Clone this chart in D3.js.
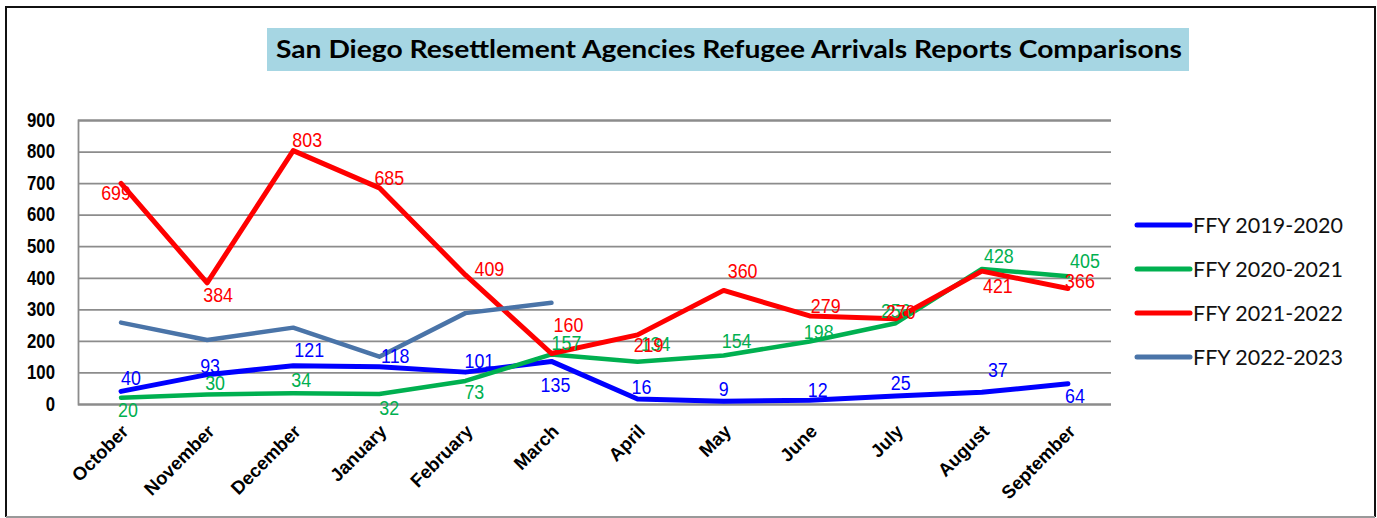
<!DOCTYPE html>
<html>
<head>
<meta charset="utf-8">
<script src="https://cdn.jsdelivr.net/npm/d3@7"></script>
<style>
  html, body { margin: 0; padding: 0; background: #fff; }
  svg { display: block; }
</style>
</head>
<body>
<div id="chart"></div>
<script>
// ---------- data ----------
var months = ['October', 'November', 'December', 'January', 'February', 'March', 'April', 'May', 'June', 'July', 'August', 'September'];
var yTicks = [0, 100, 200, 300, 400, 500, 600, 700, 800, 900];
var seriesNames = ['FFY 2019-2020', 'FFY 2020-2021', 'FFY 2021-2022', 'FFY 2022-2023'];
var ffy1920 = [40, 93, 121, 118, 101, 135, 16, 9, 12, 25, 37, 64];
var ffy2021 = [20, 30, 34, 32, 73, 157, 134, 154, 198, 256, 428, 405];
var ffy2122 = [699, 384, 803, 685, 409, 160, 219, 360, 279, 270, 421, 366];
var ffy2223 = [258, 203, 242, 150, 288, 321];
var title = 'San Diego Resettlement Agencies Refugee Arrivals Reports Comparisons';

// label nudges [dx, dy] from each point (layout only)
var nudge1920 = [[10,-6],[3,-2],[16,-9],[16,-4],[14,-4],[4,31],[4,-5],[0,-5],[8,-3],[5,-6],[16,-15],[7,19]];
var nudge2021 = [[7,19],[8,-5],[8,-6],[10,21],[9,18],[15,-4],[18,-11],[13,-7],[9,-3],[0,-5],[17,-6],[17,-8]];
var nudge2122 = [[-5,17],[11,19],[14,-4],[10,-3],[24,1],[17,-22],[11,17],[19,-12],[16,-3],[5,0],[16,22],[12,-1]];

var W = 1377, H = 518;
var colors = ['#0000ff', '#00b050', '#ff0000', '#4a74a8'];
var widths = [5, 4.5, 5, 4.5];
var series = [
  { name: seriesNames[0], v: ffy1920, c: colors[0], w: widths[0], nudge: nudge1920 },
  { name: seriesNames[1], v: ffy2021, c: colors[1], w: widths[1], nudge: nudge2021 },
  { name: seriesNames[2], v: ffy2122, c: colors[2], w: widths[2], nudge: nudge2122 },
  { name: seriesNames[3], v: ffy2223, c: colors[3], w: widths[3], nudge: null }
];
var FONT = '"Liberation Sans", Arial, sans-serif';

var svg = d3.select('#chart').append('svg').attr('width', W).attr('height', H);

// frame
svg.append('line').attr('x1', 6).attr('x2', 6).attr('y1', 6).attr('y2', 517).attr('stroke', '#111').attr('stroke-width', 2);
svg.append('line').attr('x1', 6).attr('x2', 1375).attr('y1', 7).attr('y2', 7).attr('stroke', '#111').attr('stroke-width', 2);
svg.append('line').attr('x1', 1375).attr('x2', 1375).attr('y1', 6).attr('y2', 517).attr('stroke', '#111').attr('stroke-width', 2);
svg.append('line').attr('x1', 6).attr('x2', 1375).attr('y1', 517).attr('y2', 517).attr('stroke', '#999').attr('stroke-width', 2);

// title
svg.append('rect').attr('x', 267).attr('y', 28).attr('width', 922).attr('height', 43).attr('fill', '#a6d6e3');
svg.append('text').attr('x', 276).attr('y', 58).attr('font-family', 'Lato, sans-serif').attr('font-weight', 700).attr('font-size', 24)
  .attr('fill', '#000').attr('textLength', 906).attr('lengthAdjust', 'spacingAndGlyphs').text(title);

// scales
var x = d3.scaleBand().domain(months).range([78, 1111]);
var y = d3.scaleLinear().domain([0, 900]).range([404, 120]);
function cx(i) { return x(months[i]) + x.bandwidth() / 2; }

// grid + axes
var gy = svg.append('g').attr('transform', 'translate(78,0)')
  .call(d3.axisLeft(y).tickValues(yTicks).tickSize(-(1111 - 78)).tickPadding(0).tickFormat(d3.format('d')));
gy.select('.domain').attr('stroke', '#8c8c8c').attr('stroke-width', 1.8);
gy.selectAll('line').attr('stroke', '#8c8c8c').attr('stroke-width', 1.8);
gy.selectAll('text').attr('x', 0).attr('font-family', FONT).attr('font-weight', 700)
  .attr('font-size', 19.5).attr('fill', '#000').attr('transform', 'translate(-23,0) scale(0.86,1)');

var gx = svg.append('g').attr('transform', 'translate(0,404)').call(d3.axisBottom(x).tickSize(0).tickFormat(''));
gx.select('.domain').remove();
svg.append('g').selectAll('text').data(months).join('text')
  .attr('transform', function (d, i) { return 'translate(' + (cx(i) + 4) + ',428) rotate(-45)'; })
  .attr('text-anchor', 'end').attr('dy', '0.35em')
  .attr('font-family', FONT).attr('font-weight', 700).attr('font-size', 18.5).attr('fill', '#000')
  .text(function (d) { return d; });

// lines
var line = d3.line().x(function (d, i) { return cx(i); }).y(function (d) { return y(d); });
series.forEach(function (s) {
  svg.append('path').datum(s.v).attr('d', line).attr('fill', 'none').attr('stroke', s.c).attr('stroke-width', s.w)
    .attr('stroke-linejoin', 'round').attr('stroke-linecap', 'round');
});

// data labels
series.forEach(function (s) {
  if (!s.nudge) return;
  svg.append('g').selectAll('text').data(s.v).join('text')
    .attr('transform', function (d, i) { return 'translate(' + (cx(i) + s.nudge[i][0]) + ',' + (y(d) + s.nudge[i][1]) + ') scale(0.85,1)'; })
    .attr('text-anchor', 'middle').attr('font-family', FONT).attr('font-size', 21)
    .attr('fill', s.c).text(function (d) { return d; });
});

// legend
var lg = svg.append('g').selectAll('g').data(series).join('g')
  .attr('transform', function (d, i) { return 'translate(1137,' + (225 + i * 44) + ')'; });
lg.append('line').attr('x1', 0).attr('x2', 53).attr('stroke', function (d) { return d.c; }).attr('stroke-width', 5).attr('stroke-linecap', 'round');
lg.append('text').attr('x', 56).attr('y', 8).attr('font-family', 'Lato, sans-serif').attr('font-size', 22).attr('fill', '#111')
  .attr('textLength', 150).attr('lengthAdjust', 'spacingAndGlyphs').text(function (d) { return d.name; });
</script>
</body>
</html>
